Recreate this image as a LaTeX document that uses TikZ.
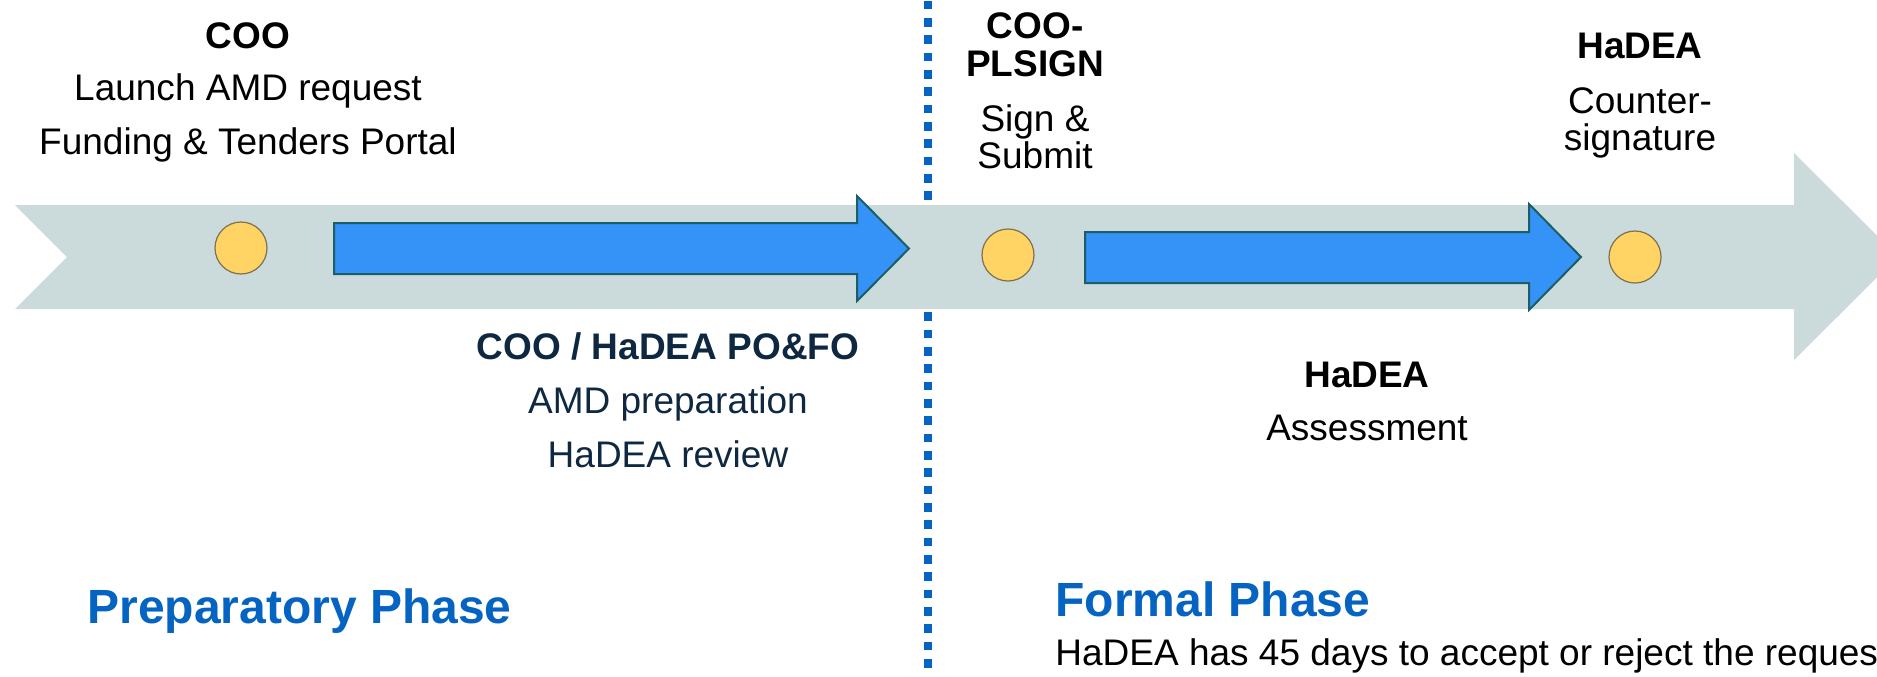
\documentclass[tikz,border=0pt]{standalone}
\usepackage{fontspec}
\setmainfont{Liberation Sans}
\usetikzlibrary{positioning}

\definecolor{bandgrey}{HTML}{CBDADB}
\definecolor{phaseblue}{HTML}{0563C1}
\definecolor{arrowblue}{HTML}{3592F7}
\definecolor{arrowedge}{HTML}{1B5E66}
\definecolor{dotyellow}{HTML}{FFD464}
\definecolor{dotedge}{HTML}{7F7050}
\definecolor{navy}{HTML}{0E2841}

\begin{document}
\begin{tikzpicture}[x=0.5pt,y=-0.5pt,
    lbl/.style={anchor=base,inner sep=0pt,font=\fontsize{18.5}{22}\selectfont},
    head/.style={lbl,font=\fontsize{18.5}{22}\selectfont\bfseries},
    phase/.style={anchor=base west,inner sep=0pt,text=phaseblue,
      font=\fontsize{24}{28}\selectfont\bfseries},
    milestone/.style={circle,draw=dotedge,fill=dotyellow,line width=0.6pt,
      minimum size=26pt,inner sep=0pt},
    blockarrow/.style={draw=arrowedge,fill=arrowblue,line width=1pt},
    divider/.style={phaseblue,line width=4.3pt,dash pattern=on 4.33pt off 4.33pt}]
    \useasboundingbox (0,0) rectangle (1877,676);
    \clip (0,0) rectangle (1877,676);
    \draw[divider] (928,0.7) -- (928,668);
    \fill[bandgrey] (15,205) -- (1794,205) -- (1794,153) -- (1898,256.5)
      -- (1794,360) -- (1794,309) -- (15,309) -- (67,257) -- cycle;
    \draw[blockarrow] (334,223) -- (857,223) -- (857,196) -- (909,248.5)
      -- (857,301) -- (857,274) -- (334,274) -- cycle;
    \draw[blockarrow] (1085,232) -- (1529,232) -- (1529,204) -- (1581,257)
      -- (1529,310) -- (1529,283) -- (1085,283) -- cycle;
    \node[milestone] (launch) at (241,248) {};
    \node[milestone] (submit) at (1008,255) {};
    \node[milestone] (countersign) at (1635,257) {};
    \node[head] (cooA) at (248,48) {COO};
    \node[lbl] (launchtxt) at (248,100) {Launch AMD request};
    \node[lbl] (portal) at (248,154) {Funding \& Tenders Portal};
    \node[head,text=navy] (prep) at (668,359) {COO / HaDEA PO\&FO};
    \node[lbl,text=navy] (amd) at (668,413) {AMD preparation};
    \node[lbl,text=navy] (review) at (668,467) {HaDEA review};
    \node[head] (plsignA) at (1035,38) {COO-};
    \node[head] (plsignB) at (1035,76) {PLSIGN};
    \node[lbl] (signA) at (1035,131) {Sign \&};
    \node[lbl] (signB) at (1035,168) {Submit};
    \node[head] (hadeaA) at (1640,58) {HaDEA};
    \node[lbl] (counterA) at (1640,113) {Counter-};
    \node[lbl] (counterB) at (1640,150) {signature};
    \node[head] (hadeaB) at (1367,387) {HaDEA};
    \node[lbl] (assess) at (1367,440) {Assessment};
    \node[phase] (prepphase) at (87,623) {Preparatory Phase};
    \node[phase] (formphase) at (1055,616) {Formal Phase};
    \node[lbl,anchor=base west] (deadline) at (1055,665)
      {HaDEA has 45 days to accept or reject the request};
  \end{tikzpicture}
\end{document}
